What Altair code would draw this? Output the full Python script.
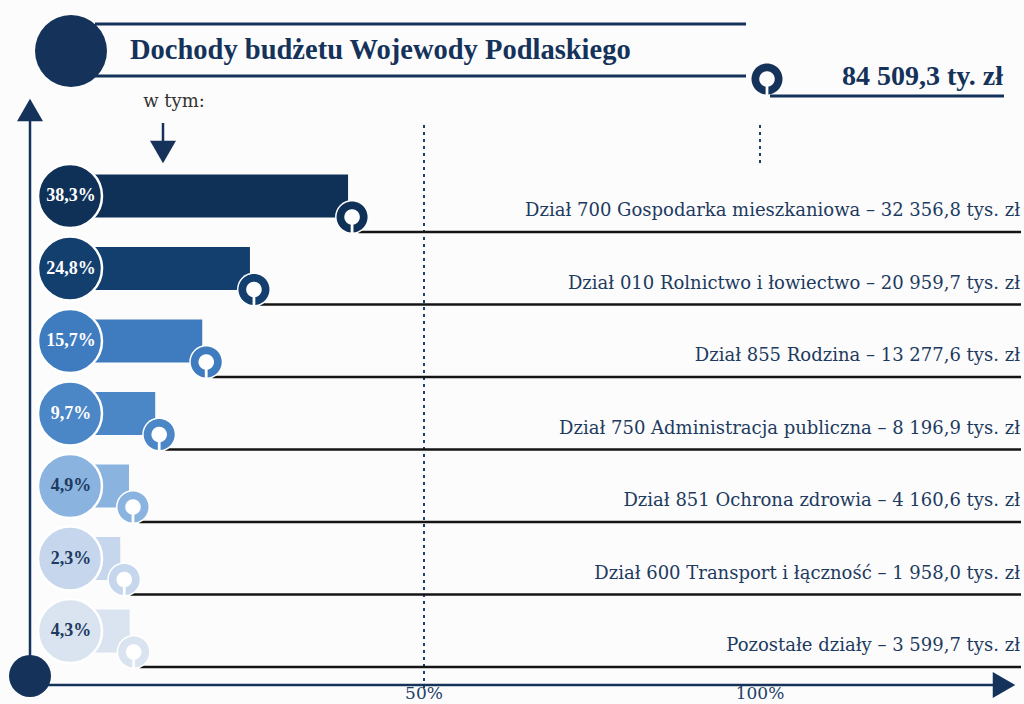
import math
import altair as alt
import pandas as pd

# ---------------- data ----------------
pct_labels = ["38,3%", "24,8%", "15,7%", "9,7%", "4,9%", "2,3%", "4,3%"]
bar_len = [38.7, 24.1, 17.0, 10.0, 6.1, 4.8, 6.2]   # bar end (% scale)
labels = [
    "Dział 700 Gospodarka mieszkaniowa – 32 356,8 tys. zł",
    "Dział 010 Rolnictwo i łowiectwo – 20 959,7 tys. zł",
    "Dział 855 Rodzina – 13 277,6 tys. zł",
    "Dział 750 Administracja publiczna – 8 196,9 tys. zł",
    "Dział 851 Ochrona zdrowia – 4 160,6 tys. zł",
    "Dział 600 Transport i łączność – 1 958,0 tys. zł",
    "Pozostałe działy – 3 599,7 tys. zł",
]
row_colors = ["#0f3157", "#133f6f", "#3f7cbf", "#4b86c7", "#8ab3df", "#c6d7ed", "#dae4f1"]
text_colors = ["#ffffff", "#ffffff", "#ffffff", "#ffffff", "#1d3a60", "#1d3a60", "#1d3a60"]
tick_values = [50, 100]
tick_labels = ["50%", "100%"]
title_text = "Dochody budżetu Wojewody Podlaskiego"
total_text = "84 509,3 ty. zł"
sub_text = "w tym:"

NAVY = "#14325a"
BG = "#fcfcfc"
SERIF = "Liberation Serif"
LABEL_FONT = "DejaVu Serif"

df = pd.DataFrame({
    "row": list(range(len(labels))),
    "pct": pct_labels,
    "bar": bar_len,
    "label": labels,
    "color": row_colors,
    "tcolor": text_colors,
})
df["zero"] = 0.0

# ---------------- scales ----------------
W, H = 1024, 704
X0, PX = 88.0, 6.72      # 0% position and px per percent
xs = alt.Scale(domain=[-X0 / PX, (W - X0) / PX], nice=False, zero=False)
Y0, ROW = 196.0, 72.5
ys = alt.Scale(domain=[-Y0 / ROW, (H - Y0) / ROW], reverse=True, nice=False, zero=False)


def ring_path(inner=0.5, gap=0.1, n=64):
    a_out = math.degrees(math.asin(gap / 1.0))
    a_in = math.degrees(math.asin(gap / inner))
    pts = []
    start, end = 90 - a_out, 90 + a_out - 360
    for i in range(n + 1):
        t = math.radians(start + (end - start) * i / n)
        pts.append((math.cos(t), math.sin(t)))
    start, end = 90 + a_in - 360, 90 - a_in
    for i in range(n + 1):
        t = math.radians(start + (end - start) * i / n)
        pts.append((inner * math.cos(t), inner * math.sin(t)))
    return "M" + " L".join(f"{x:.4f},{y:.4f}" for x, y in pts) + " Z"


RING = ring_path(inner=0.5, gap=0.09)
RING_D = 31
RING_SIZE = RING_D * RING_D
one = alt.Data(values=[{"a": 1}])
X = lambda f: alt.X(f, scale=xs, axis=None)
Y = lambda f: alt.Y(f, scale=ys, axis=None)

layers = []

# dotted reference lines (50% and 100%)
ticks_df = pd.DataFrame({"v": tick_values, "lab": tick_labels})
layers.append(
    alt.Chart(ticks_df).transform_filter("datum.v == 50")
    .mark_rule(strokeDash=[3, 4], strokeWidth=2, color="#1f3f6b")
    .encode(x=X("v:Q"), y=alt.value(125), y2=alt.value(688))
)
layers.append(
    alt.Chart(ticks_df).transform_filter("datum.v == 100")
    .mark_rule(strokeDash=[3, 4], strokeWidth=2, color="#1f3f6b")
    .encode(x=X("v:Q"), y=alt.value(125), y2=alt.value(167))
)

# bars
layers.append(
    alt.Chart(df).mark_rect(yOffset=-21.5, y2Offset=21.5)
    .encode(x=X("zero:Q"), x2="bar:Q", y=Y("row:Q"), y2="row:Q",
            color=alt.Color("color:N", scale=None))
)
# black lines under labels
layers.append(
    alt.Chart(df).mark_rule(strokeWidth=2.6, color="#151515", yOffset=36, xOffset=10)
    .encode(x=X("bar:Q"), x2=alt.value(1021), y=Y("row:Q"))
)
# white backing discs for the rings
layers.append(
    alt.Chart(df).mark_point(shape="circle", filled=True, size=(RING_D + 3) ** 2, opacity=1,
                             color="white", strokeWidth=0, xOffset=4, yOffset=21)
    .encode(x=X("bar:Q"), y=Y("row:Q"))
)
# rings at bar ends
layers.append(
    alt.Chart(df).mark_point(shape=RING, filled=True, size=RING_SIZE, opacity=1,
                             strokeWidth=0, xOffset=4, yOffset=21)
    .encode(x=X("bar:Q"), y=Y("row:Q"), fill=alt.Fill("color:N", scale=None))
)
# big circles
layers.append(
    alt.Chart(df).mark_point(shape="circle", filled=True, size=64 * 64, opacity=1,
                             stroke="white", strokeWidth=2.5)
    .encode(x=alt.value(70), y=Y("row:Q"), fill=alt.Fill("color:N", scale=None))
)
# percent texts
layers.append(
    alt.Chart(df).mark_text(font=SERIF, fontWeight="bold", fontSize=18, baseline="middle")
    .encode(x=alt.value(71), y=Y("row:Q"), text="pct:N", color=alt.Color("tcolor:N", scale=None))
)
# category labels
layers.append(
    alt.Chart(df).mark_text(font=LABEL_FONT, fontSize=18, align="right", baseline="middle",
                            dy=15, color="#1d3a60")
    .encode(x=alt.value(1020), y=Y("row:Q"), text="label:N")
)

# ---------------- decorations ----------------
def rule(x1, x2, y1, y2, w=3, color=NAVY):
    return alt.Chart(one).mark_rule(strokeWidth=w, color=color).encode(
        x=alt.value(x1), x2=alt.value(x2), y=alt.value(y1), y2=alt.value(y2))


def sym(x, y, shape, size, color=NAVY):
    return alt.Chart(one).mark_point(shape=shape, filled=True, size=size, opacity=1,
                                     color=color, strokeWidth=0).encode(
        x=alt.value(x), y=alt.value(y))


def txt(x, y, s, size, bold=False, align="left", color=NAVY, font=SERIF):
    return alt.Chart(one).mark_text(font=font, fontSize=size, align=align, baseline="middle",
                                    fontWeight="bold" if bold else "normal", color=color,
                                    text=s).encode(x=alt.value(x), y=alt.value(y))


# title block
layers += [
    rule(95, 746, 24, 24),
    rule(95, 746, 76, 76),
    sym(71, 51, "circle", 72 * 72),
    txt(130, 50, title_text, 28.5, bold=True),
    sym(767, 79, RING, RING_SIZE),
    rule(770, 1004, 96, 96),
    txt(1003, 77, total_text, 28, bold=True, align="right"),
    txt(174, 102, sub_text, 18, align="center", color="#333333", font=LABEL_FONT),
    rule(163, 163, 123, 146, w=2.5),
    sym(163, 152, "triangle-down", 676),
    # axes
    rule(30, 30, 112, 676, w=2.5),
    sym(30, 110, "triangle-up", 676),
    rule(30, 1000, 685, 685, w=2.5),
    sym(1004, 685, "triangle-right", 676),
    sym(30, 676, "circle", 42 * 42),
]
# tick labels
layers.append(
    alt.Chart(ticks_df).mark_text(font=LABEL_FONT, fontSize=17, baseline="middle", color="#23406a")
    .encode(x=X("v:Q"), y=alt.value(694), text="lab:N")
)

chart = alt.layer(*layers).properties(
    width=W, height=H, padding=0, background=BG,
    autosize=alt.AutoSizeParams(type="none"),
).configure_view(stroke=None)

chart.save("out.html", embed_options={"renderer": "svg", "actions": False})
